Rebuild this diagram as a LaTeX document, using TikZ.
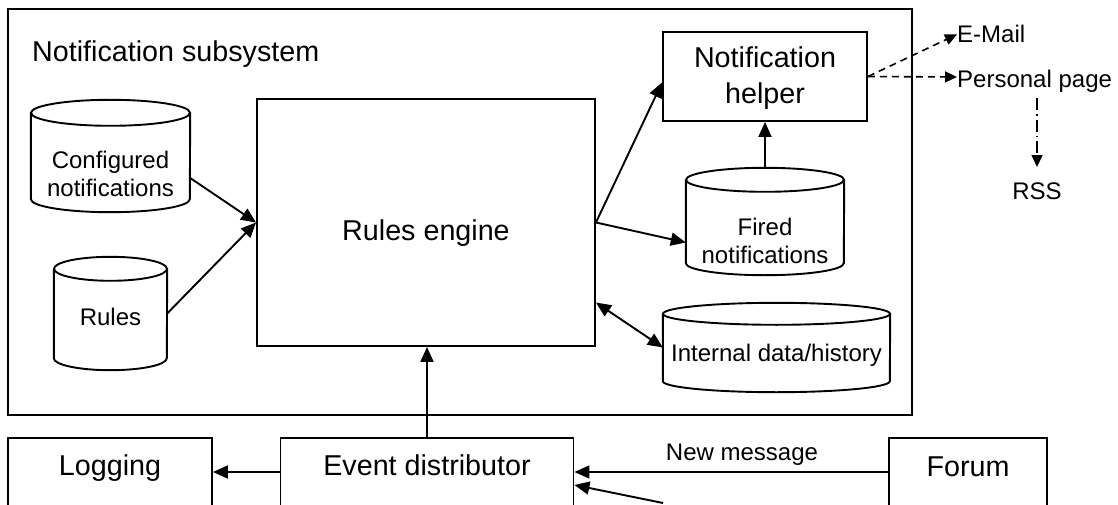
\documentclass[tikz,border=0pt]{standalone}
\usepackage{fontspec}
\setmainfont{Liberation Sans}
\usetikzlibrary{arrows.meta,calc}
\newcommand\bigfnt{\fontsize{28.7}{34}\selectfont}
\newcommand\smfnt{\fontsize{24}{28}\selectfont}
\newcommand\drawcyl[3]{%
  \draw[line width=1.9pt] ([yshift=-#3]#1.north west) -- ([yshift=#3]#1.south west)
     arc[start angle=180,end angle=360,x radius=#2,y radius=#3] -- ([yshift=-#3]#1.north east);
  \draw[line width=1.9pt] ([yshift=-#3]#1.north) ellipse[x radius=#2,y radius=#3];}
\begin{document}
\begin{tikzpicture}[x=1pt,y=-1pt,
  box/.style={draw, line width=1.9pt, fill=white, inner sep=0pt},
  cylbox/.style={inner sep=0pt, draw=none},
  big/.style={inner sep=0pt, font=\bigfnt},
  small/.style={inner sep=0pt, font=\smfnt},
  arr/.style={line width=1.9pt, -{Triangle[length=15pt,width=13pt]}},
  darr/.style={line width=1.9pt, {Triangle[length=15pt,width=13pt]}-{Triangle[length=15pt,width=13pt]}},
  dsh/.style={line width=1.6pt, dash pattern=on 7pt off 5pt, -{Triangle[length=12pt,width=11pt]}},
  ddot/.style={line width=1.3pt, dash pattern=on 12pt off 4pt on 1.5pt off 4pt, -{Triangle[length=12pt,width=11pt]}}]
\fill[white] (0,0) rectangle (1118,505);
\useasboundingbox (0,0) rectangle (1118,505);
\clip (0,0) rectangle (1118,505);

% boxes
\node[box, minimum width=904pt, minimum height=406pt] (sub) at (460,212) {};
\node[box, minimum width=338pt, minimum height=247pt] (re) at (426,222.5) {};
\node[box, minimum width=204pt, minimum height=89pt] (helper) at (765,76.5) {};
\node[box, minimum width=204pt, minimum height=68pt] (logging) at (110,472) {};
\node[box, minimum width=293pt, minimum height=68pt] (evd) at (427,472) {};
\node[box, minimum width=158pt, minimum height=68pt] (forum) at (968,472) {};

% cylinders
\node[cylbox, minimum width=159pt, minimum height=112pt] (conf) at (110.5,156) {};
\drawcyl{conf}{79.5pt}{13pt}
\node[cylbox, minimum width=113pt, minimum height=113pt] (rules) at (110.5,313.5) {};
\drawcyl{rules}{56.5pt}{12pt}
\node[cylbox, minimum width=158pt, minimum height=107pt] (fired) at (765,221.5) {};
\drawcyl{fired}{79pt}{12pt}
\node[cylbox, minimum width=227pt, minimum height=89pt] (internal) at (776.5,347.5) {};
\drawcyl{internal}{113.5pt}{11pt}

% texts
\node[big, anchor=base west] (title) at (32,61.5) {Notification subsystem};
\node[big, anchor=base] (reT) at (426,240) {Rules engine};
\node[big, anchor=base] (hT1) at (765,68) {Notification};
\node[big, anchor=base] (hT2) at (765,104) {helper};
\node[small, anchor=base] (cT1) at (110.5,168) {Configured};
\node[small, anchor=base] (cT2) at (110.5,196.5) {notifications};
\node[small, anchor=base] (rT) at (110.5,325) {Rules};
\node[small, anchor=base] (fT1) at (765,235) {Fired};
\node[small, anchor=base] (fT2) at (765,263) {notifications};
\node[small, anchor=base] (iT) at (776.5,361) {Internal data/history};
\node[big, anchor=base] (lT) at (110,475) {Logging};
\node[big, anchor=base] (eT) at (427,475) {Event distributor};
\node[big, anchor=base] (foT) at (968,476) {Forum};
\node[small, anchor=base] (nm) at (742,460.5) {New message};
\node[small, anchor=base west] (email) at (957,43) {E-Mail};
\node[small, anchor=base west] (ppage) at (957,88) {Personal page};
\node[small, anchor=base] (rss) at (1037,199) {RSS};
\node[small, anchor=base west] (more) at (661,508) {...};
\coordinate (moretip) at (663,503);

% connectors
\draw[arr] ($(conf.east)+(0,22)$) -- (re.west);
\draw[arr] (rules.east) -- (re.west);
\draw[arr] (re.east) -- ($(helper.west)+(0,6)$);
\draw[arr] (re.east) -- ($(fired.west)+(0,21)$);
\draw[arr] (fired.north) -- (helper.south);
\draw[darr] ($(re.east)+(0,80)$) -- (internal.west);
\draw[arr] (evd.north) -- (evd.north |- re.south);
\draw[arr] (evd.west) -- (logging.east);
\draw[arr] (forum.west) -- (evd.east);
\draw[arr] (moretip) -- ($(evd.east)+(0,13)$);
\draw[dsh] (helper.east) -- (email.west);
\draw[dsh] (helper.east) -- ($(ppage.base west)+(0,-11)$);
\draw[ddot] ([yshift=-5pt]ppage.south -| rss.north) -- ([yshift=15pt]rss.north);
\end{tikzpicture}
\end{document}
